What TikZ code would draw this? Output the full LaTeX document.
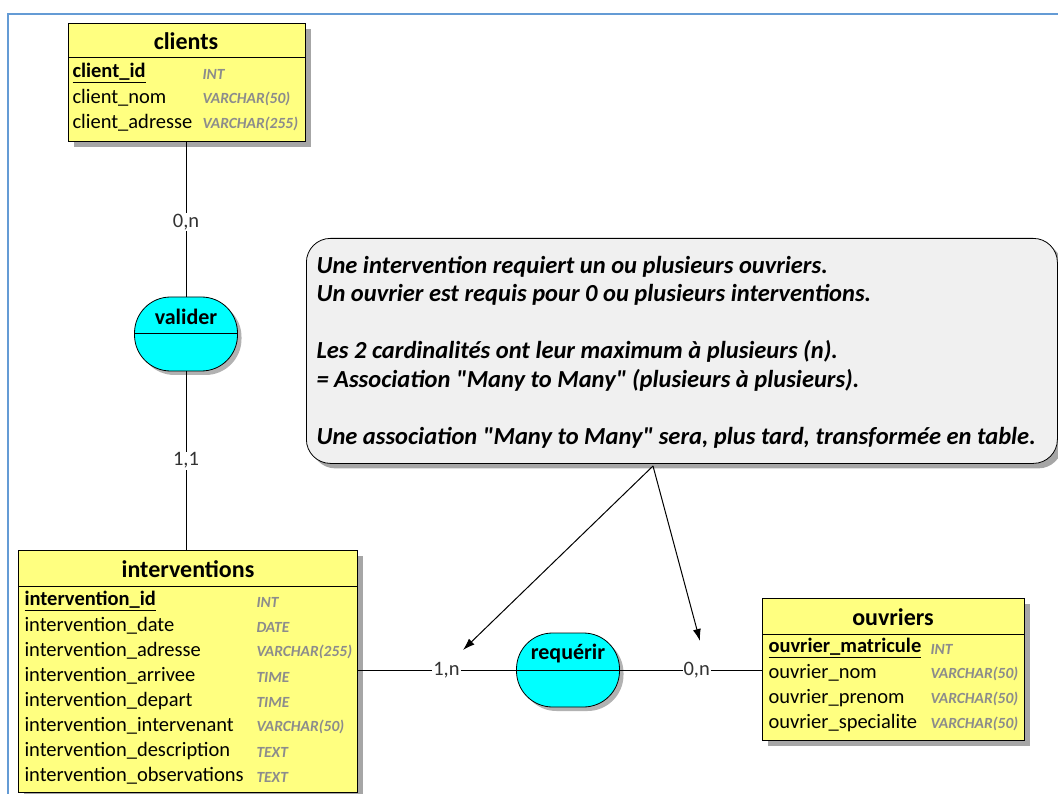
\documentclass[tikz,border=0pt]{standalone}
\usepackage{fontspec}
\setmainfont{Carlito}
\usetikzlibrary{arrows.meta,shadows}
\newcommand{\fs}[1]{\fontsize{#1}{#1}\selectfont}
\definecolor{boxyellow}{RGB}{255,255,128}
\definecolor{assoccyan}{RGB}{0,255,255}
\definecolor{notegray}{RGB}{240,240,240}
\definecolor{frameblue}{RGB}{100,155,213}
\definecolor{typegray}{RGB}{140,140,140}

\tikzset{
  entity/.style={draw, thick, fill=boxyellow, anchor=north west, inner sep=0,
    drop shadow={shadow xshift=6pt, shadow yshift=-6pt, fill=black!35, opacity=1}},
  assoc/.style={draw, thick, fill=assoccyan, rounded corners=36pt, inner sep=0,
    minimum width=103pt, minimum height=74pt,
    drop shadow={shadow xshift=4pt, shadow yshift=-4pt, fill=black!30, opacity=1}},
  head/.style={font=\fs{24}\bfseries},
  field/.style={anchor=west, inner sep=0, font=\fs{20.5}},
  ftype/.style={anchor=west, inner sep=0, text=typegray, font=\fs{15.5}\bfseries\itshape},
  card/.style={fill=white, inner sep=1pt, text=black!80, font=\fs{20.5}},
}

\begin{document}
\begin{tikzpicture}[x=1pt, y=-1pt, line width=1pt]
\useasboundingbox (0,0) rectangle (1058,794);
\draw[frameblue, line width=2pt] (8,794) -- (8,14) -- (1058,14);

% clients
\node[entity, minimum width=237pt, minimum height=118pt] (clients) at (68,23) {};
\draw (68,58) -- (305,58);
\node[head] (clientsT) at (186,41) {clients};
\node[field] (c1) at (72,73) {\bfseries\underline{client\_id}};
\node[field] (c2) at (72,98) {client\_nom};
\node[field] (c3) at (72,123) {client\_adresse};
\node[ftype] (c1t) at (202,74) {INT};
\node[ftype] (c2t) at (202,99) {VARCHAR(50)};
\node[ftype] (c3t) at (202,124) {VARCHAR(255)};

% interventions
\node[entity, minimum width=339pt, minimum height=242pt] (interventions) at (18,550) {};
\draw (18,586) -- (357,586);
\node[head] (interventionsT) at (188,569) {interventions};
\node[field] (i1) at (24,601) {\bfseries\underline{intervention\_id}};
\foreach \y/\nom in {626/date, 651/adresse, 676/arrivee, 701/depart,
    726/intervenant, 751/description, 776/observations}
  \node[field] (i\y) at (24,\y) {intervention\_\nom};
\foreach \y/\typ in {602/INT, 627/DATE, 652/VARCHAR(255), 677/TIME, 702/TIME,
    727/VARCHAR(50), 752/TEXT, 777/TEXT}
  \node[ftype] (it\y) at (256,\y) {\typ};

% ouvriers
\node[entity, minimum width=262pt, minimum height=142pt] (ouvriers) at (762,598) {};
\draw (762,634) -- (1024,634);
\node[head] (ouvriersT) at (893,617) {ouvriers};
\node[field] (o1) at (768,648) {\bfseries\underline{ouvrier\_matricule}};
\node[field] (o2) at (768,673) {ouvrier\_nom};
\node[field] (o3) at (768,698) {ouvrier\_prenom};
\node[field] (o4) at (768,723) {ouvrier\_specialite};
\node[ftype] (o1t) at (930,649) {INT};
\node[ftype] (o2t) at (930,674) {VARCHAR(50)};
\node[ftype] (o3t) at (930,699) {VARCHAR(50)};
\node[ftype] (o4t) at (930,724) {VARCHAR(50)};

% associations
\node[assoc] (valider) at (186,334) {};
\draw (valider.west) -- (valider.east);
\node[head, font=\fs{22}\bfseries] (validerT) at (186,317) {valider};
\node[assoc] (requerir) at (568,670) {};
\draw (requerir.west) -- (requerir.east);
\node[head, font=\fs{22}\bfseries] (requerirT) at (568,654) {requérir};

% liens
\draw (clients.south -| valider.north) -- node[card, pos=0.52] {0,n} (valider.north);
\draw (valider.south) -- node[card] {1,1} (valider.south |- interventions.north);
\draw (interventions.east |- requerir.west) -- node[card, pos=0.56] {1,n} (requerir.west);
\draw (requerir.east) -- node[card, pos=0.54] {0,n} (ouvriers.west |- requerir.east);

% note
\node[draw, thick, fill=notegray, rounded corners=24pt, anchor=north west, inner sep=0,
  minimum width=751pt, minimum height=225pt,
  drop shadow={shadow xshift=5pt, shadow yshift=-5pt, fill=black!35, opacity=1}] (note) at (306,238) {};
\node[anchor=west, align=left, inner sep=0, font=\fs{24.5}\bfseries\itshape,
  execute at begin node={\setlength{\baselineskip}{28.5pt}}] (noteT) at (316,352) {%
  Une intervention requiert un ou plusieurs ouvriers.\\
  Un ouvrier est requis pour 0 ou plusieurs interventions.\\[28.5pt]
  Les 2 cardinalités ont leur maximum à plusieurs (n).\\
  = Association \textquotedbl Many to Many\textquotedbl{} (plusieurs à plusieurs).\\[28.5pt]
  Une association \textquotedbl Many to Many\textquotedbl{} sera, plus tard, transformée en table.};
\coordinate (callout) at (653,466);
\coordinate (tip1n) at (463,650);
\coordinate (tip0n) at (700,641);
\draw[-{Latex[length=12pt,width=8pt]}] (callout) -- (tip1n);
\draw[-{Latex[length=12pt,width=8pt]}] (callout) -- (tip0n);
\end{tikzpicture}
\end{document}
